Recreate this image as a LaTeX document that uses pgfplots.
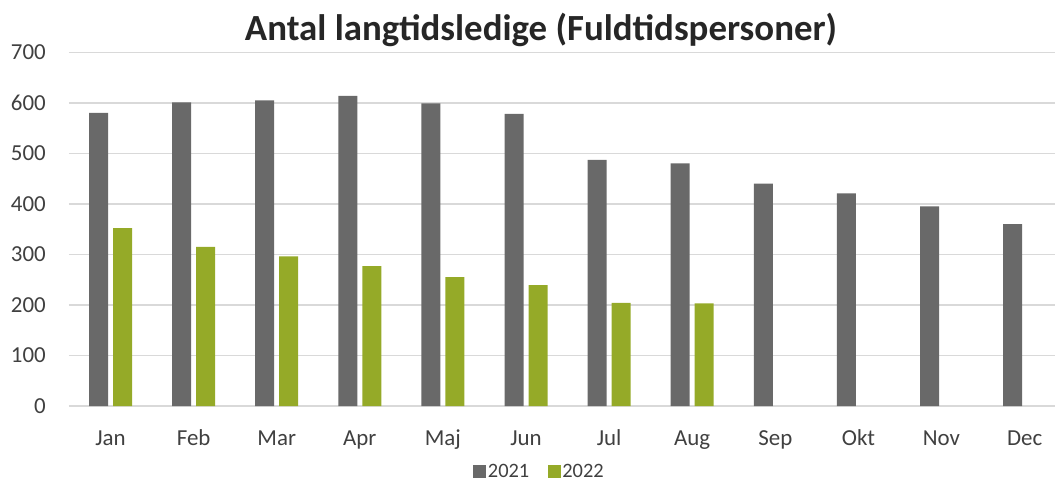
\documentclass[border=0pt]{standalone}
\usepackage{pgfplots}
\pgfplotsset{compat=1.18}
\usepackage{fontspec}
\setmainfont{Carlito}
\definecolor{gA}{HTML}{696969}
\definecolor{gB}{HTML}{95AA28}
\definecolor{gridc}{HTML}{D9D9D9}
\definecolor{txt}{HTML}{404040}
\definecolor{ttl}{HTML}{262626}
\begin{document}
\begin{tikzpicture}
\useasboundingbox (-69bp,-76bp) rectangle (986bp,406bp);
\begin{axis}[
  at={(0,0)}, anchor=south west,
  scale only axis, width=986bp, height=353.7bp,
  xmin=-0.5, xmax=11.366, ymin=0, ymax=700,
  ybar, bar width=19bp,
  xtick={0,...,11},
  xticklabels={Jan,Feb,Mar,Apr,Maj,Jun,Jul,Aug,Sep,Okt,Nov,Dec},
  ytick={0,100,...,700},
  ymajorgrids, major grid style={draw=gridc, line width=1.5bp},
  axis line style={draw=none},
  major tick length=0pt,
  tick label style={font=\fontsize{23}{23}\selectfont, text=txt, inner sep=0pt},
  /pgf/number format/assume math mode=true,
  yticklabel style={anchor=east, xshift=-23bp},
  xticklabel style={anchor=base, yshift=-39bp},
  legend style={at={(axis description cs:0.477,-0.185)}, anchor=center, draw=none, fill=none,
    legend columns=2, font=\fontsize{20.5}{20.5}\selectfont, text=txt,
    nodes={inner sep=1.5bp},
    /tikz/every even column/.append style={column sep=17bp}},
  legend image code/.code={\fill[#1] (0bp,-6.5bp) rectangle (13bp,6.5bp);},
  clip=false,
]
\addplot[fill=gA, draw=none, bar shift=-12bp] coordinates {
 (0,580) (1,601) (2,605) (3,614) (4,599) (5,578) (6,487) (7,480) (8,440) (9,421) (10,395) (11,360)};
\addplot[fill=gB, draw=none, bar shift=12bp] coordinates {
 (0,352) (1,315) (2,296) (3,277) (4,255) (5,239) (6,204) (7,203)};
\legend{2021,2022}
\end{axis}
\node[anchor=base, font=\bfseries\fontsize{37}{37}\selectfont, text=ttl] at (472bp,365bp) {Antal langtidsledige (Fuldtidspersoner)};
\end{tikzpicture}
\end{document}
